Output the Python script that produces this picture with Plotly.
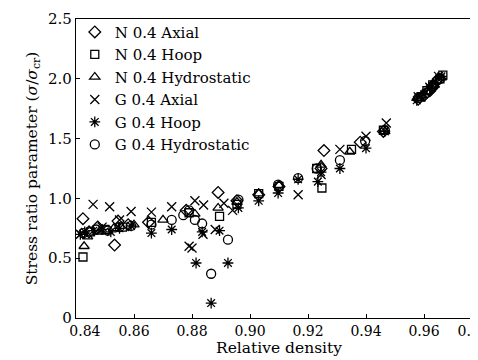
import plotly.graph_objects as go

# ---- data ----
n_axial_x = [0.8424, 0.8445, 0.8475, 0.8533, 0.8545, 0.858, 0.865, 0.878, 0.889, 0.8955, 0.903, 0.910,
             0.9255, 0.9245, 0.938, 0.946, 0.958, 0.960, 0.962, 0.963, 0.964, 0.965]
n_axial_y = [0.83, 0.72, 0.76, 0.61, 0.81, 0.78, 0.80, 0.90, 1.05, 0.98, 1.03, 1.10,
             1.40, 1.25, 1.47, 1.56, 1.83, 1.86, 1.90, 1.93, 1.97, 2.00]

n_hoop_x = [0.8424, 0.845, 0.850, 0.856, 0.866, 0.879, 0.8895, 0.8955, 0.903, 0.910, 0.9248, 0.923,
            0.935, 0.946, 0.959, 0.961, 0.963, 0.9655, 0.9665]
n_hoop_y = [0.51, 0.72, 0.74, 0.76, 0.80, 0.88, 0.85, 0.95, 1.04, 1.10, 1.087, 1.25,
            1.41, 1.57, 1.85, 1.90, 1.95, 2.00, 2.03]

n_hydro_x = [0.8428, 0.844, 0.848, 0.853, 0.860, 0.870, 0.881, 0.889, 0.8955, 0.903, 0.910, 0.9245,
             0.9344, 0.9465, 0.958, 0.961, 0.9635, 0.966]
n_hydro_y = [0.60, 0.68, 0.72, 0.75, 0.78, 0.82, 0.87, 0.92, 0.97, 1.04, 1.11, 1.28,
             1.39, 1.56, 1.84, 1.89, 1.95, 2.01]

g_axial_x = [0.8415, 0.8459, 0.8490, 0.8516, 0.855, 0.859, 0.866, 0.873, 0.879, 0.880, 0.881, 0.8838,
             0.884, 0.888, 0.891, 0.894, 0.9166, 0.9245, 0.931, 0.940, 0.947, 0.958, 0.962, 0.965]
g_axial_y = [0.70, 0.95, 0.76, 0.93, 0.82, 0.89, 0.885, 0.93, 0.60, 0.585, 0.98, 0.70,
             0.945, 0.74, 0.96, 0.90, 1.03, 1.20, 1.41, 1.52, 1.63, 1.85, 1.93, 2.02]

g_hoop_x = [0.8415, 0.843, 0.846, 0.849, 0.852, 0.855, 0.859, 0.866, 0.873, 0.8814, 0.8835, 0.8866,
            0.8895, 0.8924, 0.896, 0.903, 0.9097, 0.9166, 0.9234, 0.9245, 0.931, 0.940, 0.9465,
            0.9575, 0.960, 0.962, 0.964, 0.966]
g_hoop_y = [0.70, 0.72, 0.73, 0.74, 0.72, 0.75, 0.77, 0.71, 0.74, 0.46, 0.72, 0.125,
            0.73, 0.46, 0.92, 0.98, 1.045, 1.16, 1.14, 1.22, 1.25, 1.42, 1.56,
            1.82, 1.87, 1.92, 1.96, 2.02]

g_hydro_x = [0.8425, 0.847, 0.851, 0.855, 0.859, 0.866, 0.873, 0.877, 0.879, 0.881, 0.8835, 0.8866,
             0.8924, 0.896, 0.9097, 0.9166, 0.923, 0.931, 0.9397, 0.9465, 0.958, 0.9605, 0.963, 0.9655]
g_hydro_y = [0.71, 0.74, 0.73, 0.76, 0.77, 0.78, 0.82, 0.86, 0.90, 0.82, 0.79, 0.37,
             0.655, 0.99, 1.115, 1.17, 1.25, 1.32, 1.48, 1.57, 1.84, 1.88, 1.94, 2.00]

x_ticks = [0.84, 0.86, 0.88, 0.90, 0.92, 0.94, 0.96, 0.98]
x_tick_labels = ["0.84", "0.86", "0.88", "0.90", "0.92", "0.94", "0.96", "0.98"]
y_ticks = [0, 0.5, 1.0, 1.5, 2.0, 2.5]
y_tick_labels = ["0", "0.5", "1.0", "1.5", "2.0", "2.5"]

series = [
    ("N 0.4 Axial", n_axial_x, n_axial_y, "diamond-open", 9),
    ("N 0.4 Hoop", n_hoop_x, n_hoop_y, "square-open", 8),
    ("N 0.4 Hydrostatic", n_hydro_x, n_hydro_y, "triangle-up-open", 9),
    ("G 0.4 Axial", g_axial_x, g_axial_y, "x-thin-open", 9),
    ("G 0.4 Hoop", g_hoop_x, g_hoop_y, "asterisk-open", 9),
    ("G 0.4 Hydrostatic", g_hydro_x, g_hydro_y, "circle-open", 9),
]

FONT = "DejaVu Serif"
SP = "\u00a0"  # non-breaking spaces, used only to nudge the end labels off the frame corners
x_text = list(x_tick_labels)
x_text[0] = SP * 4 + x_text[0]
x_text[-1] = x_text[-1] + SP * 4

fig = go.Figure()
for i, (name, xs, ys, sym, sz) in enumerate(series):
    fig.add_trace(go.Scatter(
        x=xs, y=ys, mode="markers", name=name, legendgroup=f"g{i}",
        marker=dict(symbol=sym, size=sz, color="black", line=dict(color="black", width=1.3)),
    ))

axis_common = dict(showline=True, linecolor="black", linewidth=1.2, mirror=True,
                   ticks="inside", ticklen=4, tickcolor="black", showgrid=False, zeroline=False,
                   automargin=False, ticklabeloverflow="allow")

fig.update_layout(
    width=478, height=360,
    margin=dict(l=68, r=4, t=11, b=50),
    paper_bgcolor="white", plot_bgcolor="white",
    font=dict(family=FONT, color="black"),
    showlegend=True,
    legend=dict(x=-0.003, y=1.011, xanchor="left", yanchor="top", bgcolor="rgba(0,0,0,0)",
                font=dict(family=FONT, size=15, color="black"), tracegroupgap=0,
                itemwidth=30),
    xaxis=dict(range=[0.84, 0.98], tickvals=x_ticks, ticktext=x_text,
               tickfont=dict(family=FONT, size=14, color="black"),
               title=dict(text="Relative density", font=dict(family=FONT, size=15.5), standoff=4),
               **axis_common),
    yaxis=dict(range=[0, 2.5], tickvals=y_ticks, ticktext=y_tick_labels,
               tickfont=dict(family=FONT, size=15, color="black"),
               title=dict(text="Stress ratio parameter (<i>σ</i>/<i>σ</i><sub>cr</sub>)",
                          font=dict(family=FONT, size=15.5), standoff=6),
               **axis_common),
)

fig.write_html("out.html")
